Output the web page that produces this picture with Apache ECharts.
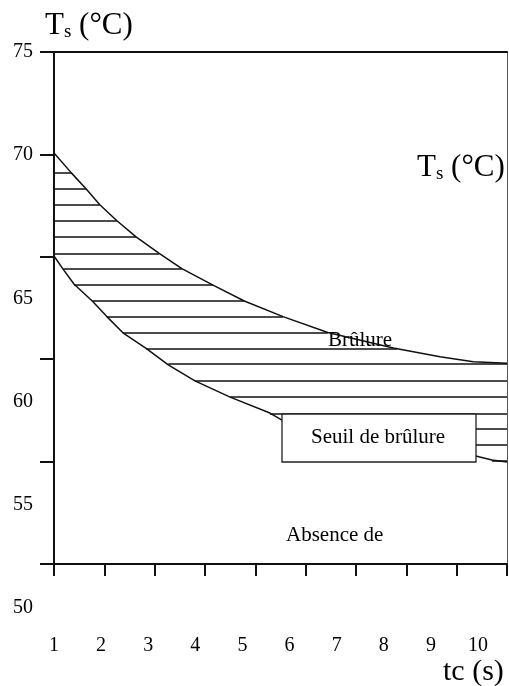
<!DOCTYPE html>
<html>
<head>
<meta charset="utf-8">
<script src="https://cdn.jsdelivr.net/npm/echarts@6/dist/echarts.min.js"></script>
<style>
html,body{margin:0;padding:0;background:#fff;}
#chart{width:509px;height:686px;}
</style>
</head>
<body>
<div id="chart"></div>
<script>
// ---- data ----
const xTickLabels = [1, 2, 3, 4, 5, 6, 7, 8, 9, 10];
const yLabelsUpper = [75, 70];
const yLabelsLower = [65, 60, 55, 50];

// upper curve (Brûlure boundary): [tc, Ts]
const upperX = [1.0, 1.34, 1.64, 1.91, 2.25, 2.63, 3.09, 3.54, 4.16, 4.78, 5.55, 6.44, 7.74, 8.67, 9.33, 10.0];
const upperY = [70.07, 69.11, 68.31, 67.54, 66.76, 65.97, 65.17, 64.42, 63.62, 62.84, 62.08, 61.30, 60.55, 60.12, 59.88, 59.80];

// lower curve (Seuil de brûlure boundary)
const lowerX = [1.0, 1.18, 1.40, 1.76, 2.05, 2.37, 2.83, 3.27, 3.80, 4.50, 5.29, 5.53, 6.9, 8.5, 9.70, 10.0];
const lowerY = [65.04, 64.40, 63.66, 62.84, 62.08, 61.29, 60.53, 59.72, 58.94, 58.15, 57.37, 57.03, 56.58, 55.81, 55.08, 54.98];

// hatch lines: level, start, end
const hatchLevel = [69.11, 68.31, 67.54, 66.76, 65.97, 65.17, 64.42, 63.62, 62.84, 62.08, 61.30, 60.53, 59.78, 58.94, 58.15, 57.35, 56.58, 55.81, 55.02];
const hatchFrom  = [1.0, 1.0, 1.0, 1.0, 1.0, 1.0, 1.18, 1.40, 1.76, 2.05, 2.37, 2.83, 3.27, 3.80, 4.50, 5.29, 6.9, 8.5, 9.70];
const hatchTo    = [1.34, 1.64, 1.91, 2.25, 2.63, 3.09, 3.54, 4.16, 4.78, 5.55, 6.44, 7.81, 10.0, 10.0, 10.0, 10.0, 10.0, 10.0, 10.0];

// ---- build ----
const upperData = upperX.map((x, i) => [x, upperY[i]]);
const lowerData = lowerX.map((x, i) => [x, lowerY[i]]);
const hatchData = hatchLevel.map((y, i) => ({ coords: [[hatchFrom[i], y], [hatchTo[i], y]] }));

const SERIF = 'Liberation Serif, Times New Roman, serif';
const chart = echarts.init(document.getElementById('chart'), null, { renderer: 'canvas' });

const noSplit = { show: false };
chart.setOption({
  animation: false,
  backgroundColor: '#fff',
  grid: [
    { left: 54, right: 2, top: 52, bottom: 122 },
    { left: 54, right: 31, top: 299, bottom: 78 }
  ],
  xAxis: [
    { // main bottom axis
      type: 'value', gridIndex: 0, min: 1, max: 10, interval: 1, position: 'bottom',
      axisLine: { show: true, onZero: false, lineStyle: { color: '#111', width: 2 } },
      axisTick: { show: true, inside: false, length: 12, lineStyle: { color: '#111', width: 2 } },
      axisLabel: { show: false }, splitLine: noSplit
    },
    { // top frame line
      type: 'value', gridIndex: 0, min: 1, max: 10, interval: 1, position: 'top',
      axisLine: { show: true, onZero: false, lineStyle: { color: '#111', width: 2 } },
      axisTick: { show: false }, axisLabel: { show: false }, splitLine: noSplit
    },
    { // tick labels row (shifted as in the scan)
      type: 'value', gridIndex: 1, min: 1, max: 10, interval: 1, position: 'bottom',
      axisLine: { show: false }, axisTick: { show: false }, splitLine: noSplit,
      axisLabel: {
        show: true, margin: 28, color: '#000', fontSize: 20, fontFamily: SERIF,
        formatter: v => (xTickLabels.indexOf(v) >= 0 ? String(v) : '')
      }
    }
  ],
  yAxis: [
    {
      type: 'value', gridIndex: 0, min: 50, max: 75, interval: 5, position: 'left',
      axisLine: { show: true, onZero: false, lineStyle: { color: '#111', width: 2 } },
      axisTick: { show: true, inside: false, length: 14, lineStyle: { color: '#111', width: 2 } },
      axisLabel: {
        show: true, margin: 21, color: '#000', fontSize: 20, fontFamily: SERIF,
        formatter: v => (yLabelsUpper.indexOf(v) >= 0 ? String(v) : '')
      },
      splitLine: noSplit
    },
    { // right frame line
      type: 'value', gridIndex: 0, min: 50, max: 75, interval: 5, position: 'right',
      axisLine: { show: true, onZero: false, lineStyle: { color: '#555', width: 1 } },
      axisTick: { show: false }, axisLabel: { show: false }, splitLine: noSplit
    },
    {
      type: 'value', gridIndex: 1, min: 50, max: 65, interval: 5, position: 'left',
      axisLine: { show: false }, axisTick: { show: false }, splitLine: noSplit,
      axisLabel: {
        show: true, margin: 21, color: '#000', fontSize: 20, fontFamily: SERIF,
        formatter: v => (yLabelsLower.indexOf(v) >= 0 ? String(v) : '')
      }
    }
  ],
  series: [
    {
      name: 'Brûlure', type: 'line', xAxisIndex: 0, yAxisIndex: 0,
      data: upperData, showSymbol: false, smooth: false,
      lineStyle: { color: '#111', width: 1.5 }, z: 3
    },
    {
      name: 'Seuil', type: 'line', xAxisIndex: 0, yAxisIndex: 0,
      data: lowerData, showSymbol: false, smooth: false,
      lineStyle: { color: '#111', width: 1.5 }, z: 3
    },
    {
      name: 'hatch', type: 'lines', coordinateSystem: 'cartesian2d', xAxisIndex: 0, yAxisIndex: 0,
      data: hatchData, silent: true,
      lineStyle: { color: '#111', width: 1.6, opacity: 1, curveness: 0 }, z: 4
    }
  ],
  graphic: [
    { type: 'text', left: 45, top: 10, z: 10,
      style: { text: '{a|T}{b|s}{a| (°C)}', rich: {
        a: { fontSize: 31, fontFamily: SERIF, fill: '#000' },
        b: { fontSize: 19, fontFamily: SERIF, fill: '#000', padding: [14, 0, 0, 0] } } } },
    { type: 'text', left: 417, top: 152, z: 10,
      style: { text: '{a|T}{b|s}{a| (°C)}', rich: {
        a: { fontSize: 31, fontFamily: SERIF, fill: '#000' },
        b: { fontSize: 19, fontFamily: SERIF, fill: '#000', padding: [14, 0, 0, 0] } } } },
    { type: 'text', left: 328, top: 330, z: 1,
      style: { text: 'Brûlure', fontSize: 21, fontFamily: SERIF, fill: '#000' } },
    { type: 'rect', shape: { x: 282, y: 414, width: 194, height: 48 }, z: 20,
      style: { fill: '#fff', stroke: '#222', lineWidth: 1.3 } },
    { type: 'text', left: 311, top: 427, z: 21,
      style: { text: 'Seuil de brûlure', fontSize: 21, fontFamily: SERIF, fill: '#000' } },
    { type: 'text', left: 286, top: 525, z: 10,
      style: { text: 'Absence de', fontSize: 21, fontFamily: SERIF, fill: '#000' } },
    { type: 'text', left: 443, top: 657, z: 10,
      style: { text: 'tc (s)', fontSize: 30, fontFamily: SERIF, fill: '#000' } }
  ]
});
</script>
</body>
</html>
